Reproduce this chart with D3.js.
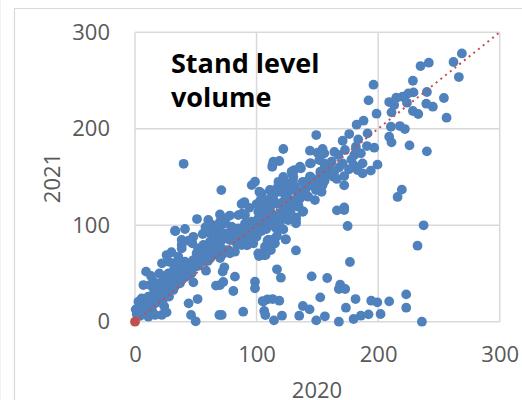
<!DOCTYPE html>
<html><head><meta charset="utf-8">
<script src="https://cdn.jsdelivr.net/npm/d3@7"></script>
<style>html,body{margin:0;padding:0;background:#fff;overflow:hidden}svg{display:block}
text{font-family:"Open Sans",sans-serif}</style></head><body>
<svg id="c" width="522" height="400"></svg>
<script>
const xTicks=[0,100,200,300];
const yTicks=[0,100,200,300];
const xTitle="2020", yTitle="2021";
const titleLines=["Stand level","volume"];
const trend=[[0,0],[300,300]];
const origin=[[0,0]];
const standVolume=[
[237.4,99.9],[232.4,78.8],[174.9,99.2],[176.8,61.9],[132.4,73.9],[123.9,85.3],[122,95.7],[116.8,88.8],[116.8,54.3],[120,45.6],[145.3,47],[158.1,45.3],[168.8,38.4],[167.7,33.9],[172.9,33.9],[152.4,25.2],[181.4,23.5],[194.3,21.8],[199.3,20.1],[209.1,21.1],[223.1,28.3],[223.1,14.5],[173.5,14.5],[138.1,16.3],[143.6,12.8],[118.7,21.8],[113.2,23.5],[109,23.2],[105,21.4],[106.3,11.1],[107.2,6.9],[120.9,6.2],[114.3,1.4],[135.1,6.2],[149.1,1.4],[156.2,5.6],[167.7,0],[179.8,2.8],[185.8,6.2],[192.1,7.6],[202,8],[236,0],[166.1,115.4],[172.1,118.5],[172.1,115.7],[138.4,114.4],[134.6,119.2],[132.4,108.1],[132.4,103.6],[109,84],[114.6,81.2],[111.8,81.2],[109,76],[111.8,74.3],[106.3,69.1],[103.6,69.1],
[268.9,278.1],[262,269.2],[266.4,253.6],[241.7,268.5],[234.9,265],[228.6,249.8],[240.1,238.1],[229.1,237.7],[224.8,236.7],[220.1,233.2],[214.9,232.2],[209.1,227.7],[213.2,224.6],[211,217],[223.7,227],[228.6,218.4],[233,215.3],[239.6,226],[245,222.9],[254.1,231.9],[256.3,211.5],[196.2,245.7],[192.1,229.4],[198.7,215.6],[188,208.4],[182.3,204.2],[210.5,202.1],[217.9,202.8],[222,199.7],[209.1,191.8],[211,185.9],[225.8,182.8],[240.1,176.6],[219.5,136.9],[216,129.3],[149.1,193.5],[176.2,194.5],[170.8,187.6],[191.3,195.2],[183.6,189],[196.8,180.4],[190.8,182.1],[172.7,178],[181.7,181.4],[180.4,172.8],[185.8,174.5],[122,179],[118.7,166.6],[113.2,162.4],[143.9,177.3],[154.3,179],[150.2,175.2],[155.7,174.5],[167.2,172.8],[161.7,165.9],[170.8,164.1],[144.7,164.1],[151.6,167.6],[155.7,164.1],[136.5,159],[131,157.2],[179.8,162.4],[187.2,164.1],[199.5,162.8],[194,156.6],[187.2,153.8],[183.1,157.2],[172.1,151],[172.1,141.4],[163.4,150.3],[158.4,152],[152.4,155.5],[144.2,150.3],[129.6,152],[154.3,141.7],[148.8,136.5],
[113.8,165.8],[112.9,160.6],[128.8,155.5],[135.7,160.6],[143.9,164.1],[130.2,150.3],[126.1,143.4],[131.6,139.9],[122,141.6],[116.5,138.2],[111,136.5],[113.8,131.3],[119.2,134.7],[126.1,134.7],[133,134.7],[138.4,136.5],[143.9,150.3],[150.8,138.2],[148,126.1],[153.5,134.7],[142.5,129.6],[135.7,127.8],[128.8,126.1],[122,124.4],[116.5,122.6],[111,127.8],[104.2,133],[104.2,122.6],[104.2,114],[108.3,117.5],[112.4,112.3],[119.2,112.3],[126.1,117.5],[134.3,120.9],[137.9,114],[132.4,107.1],[132.4,101.9],[124.7,106.4],[117.9,108.8],[111,105.4],[104.2,105.4],[106.9,110.6],[122,117.5],
[33.2,94],[41.1,96.1],[38.4,84.7],[38.4,79.5],[38.4,76],[47.2,81.2],[55.7,90.9],[61.7,91.6],[68.5,94.3],[52.1,75],[57.6,77.8],[64.4,81.2],[71.3,84.7],[75.4,91.6],[78.1,84.7],[83.6,95],[50.7,70.9],[58.9,69.1],[65.8,70.9],[74,74.3],[82.2,72.6],[26,69.1],[22.2,60.5],[9.1,51.9],[13.2,47.4],[35.6,67.4],[41.1,62.2],[48,63.9],[54.8,62.2],[31.5,60.5],[37,55.3],[43.9,55.3],[49.3,57],[58.4,52.9],[46.6,50.1],[48,40.8],[41.1,46.7],[34.3,48.4],[27.4,50.1],[23.3,46.7],[30.2,43.2],[37,39.8],[31.5,32.9],[24.7,39.8],[19.2,39.8],[6.9,38],[12.3,38],[15.6,32.9],[22,31.1],[11,26],[5.5,24.2],[2.8,20.8],[8.2,19],[13.7,22.5],[19.2,27.7],[23.3,23.5],[0.6,12.8],[1.4,8],[6.9,8.7],[11,5.2],[16.5,7],[22,7],[26,9.7],[5.5,14.9],[11,14.9],[16.5,19],[73.5,56.4],[72.1,51.9],[82.2,46.7],[80.9,31.8],[72.6,41.2],[66.6,37.4],[69.9,38],[51.5,23.5],[44.1,19],[46.1,7],[49.9,0.4],[69.4,7],[71.3,7],[89,10.4],[98.7,41.5],[98.7,34.6],
[40,163.7],[71,136.4],[87.7,122],[90,124],[98.7,145.1],[96,141.6],[102.3,134.7],[103.4,126.1],[69.9,111.2],[51,106.4],[60.3,105.4],[32.9,94.3],[74.8,107.1],[74,101.9],[85,110.5],[90.5,110.5],[79.5,98.5],[85,96.7],[90.5,101.9],[96,103.6],[101.4,114],[101.4,107.1],[106.9,115.7],[111,117.5],[112.4,110.5],[105.6,98.5],[98.7,96.7],[94.6,91.6],[97.3,81.2],[92.4,79.5],[87.7,79.5],[80.9,89.8],[69.9,95],[63.1,91.6],[68.5,86.4],[61.7,82.9],[56.2,79.5],[52.1,76],[58.9,74.3],[67.2,76],[74,86.4],[76.8,74.3],[107,74.3],[110.5,84.7],[115.1,86.4],[101.4,70.8],
[105.5,20.8],[102,68.1],[107.4,69.1],[110.4,75],[106.9,77.8],[115.1,81.2],[109.6,84.7],[124.1,85.4],[126,105.4],[91.8,79.5],[78.1,70.9],
[20,30],[26,34],[28,38],[33,37],[35,44],[39,44],[40,52],[44,48],[44,60],[47,58],[52,58],[52,66],[56,67],[56,72],[60,63],[60,78],[62,66],[64,73],[66,76],[70,66],[70,78],[72,70],[82,84],[84,80],[84,88],[86,86],[88,90],[90,84],[92,96],[94,86],[96,96],[98,90],[100,96],[100,88],[102,100],[104,94],[106,104],[108,96],[110,102],[113,100],[116,104],[116,97],[119,100],[122,108],[125,112],[128,115],[128,120],[131,124],[134,128],[137,130],[140,134],[142,140],[146,142],[150,146],[152,150],[156,146],[160,158],[164,156],[168,160],[140,145],[122,150],[118,145],[124,130],[16,28],[18,20],[12,20],[4,6],[8,14],[14,12],[28,26],[24,16],[30,50],[36,60],[32,54],
[88,112],[94,118],[78,110],[70,104],[64,100],[58,98],[48,88],[44,84],[30,72],[28,62],[20,50],[15,42],[100,122],[108,125],[114,126],[124,128],[130,146],[138,145],[156,160],[166,148],[176,158],[178,168],[164,176]
];
const px={l:135,r:499.7,t:32.3,b:321.7};
const svg=d3.select("#c");
const x=d3.scaleLinear().domain([0,300]).range([px.l,px.r]);
const y=d3.scaleLinear().domain([0,300]).range([px.b,px.t]);
const gridC="#d9d9d9", textC="#595959";
svg.append("path").attr("d","M14.5,400V8.5H522").attr("fill","none").attr("stroke","#d9d9d9").attr("stroke-width",1.2);
svg.append("path").attr("d","M0.5,0V400").attr("fill","none").attr("stroke","#f2f2f2");
svg.append("g").selectAll("line").data(xTicks).join("line").attr("x1",d=>x(d)).attr("x2",d=>x(d)).attr("y1",px.t).attr("y2",px.b).attr("stroke",gridC).attr("stroke-width",1.5);
svg.append("g").selectAll("line").data(yTicks).join("line").attr("x1",px.l).attr("x2",px.r).attr("y1",d=>y(d)).attr("y2",d=>y(d)).attr("stroke",gridC).attr("stroke-width",1.5);
const xAxis=d3.axisBottom(x).tickValues(xTicks).tickSize(0).tickPadding(25);
const yAxis=d3.axisLeft(y).tickValues(yTicks).tickSize(0).tickPadding(25);
const gx=svg.append("g").attr("transform",`translate(0,${px.b})`).call(xAxis);
const gy=svg.append("g").attr("transform",`translate(${px.l},0)`).call(yAxis);
[gx,gy].forEach(g=>{g.select(".domain").remove();g.selectAll("text").attr("fill",textC).style("font-size","22px").style("font-family",'"Open Sans",sans-serif');});
svg.append("g").selectAll("circle").data(standVolume).join("circle").attr("cx",d=>x(d[0])).attr("cy",d=>y(d[1])).attr("r",4.9).attr("fill","#4f81bd");
svg.append("path").attr("d",d3.line().x(d=>x(d[0])).y(d=>y(d[1]))(trend)).attr("fill","none").attr("stroke","#c0504d").attr("stroke-width",2).attr("stroke-dasharray","2 4");
svg.append("g").selectAll("circle").data(origin).join("circle").attr("cx",d=>x(d[0])).attr("cy",d=>y(d[1])).attr("r",4.9).attr("fill","#c0504d");
svg.append("text").attr("x",317).attr("y",398).attr("text-anchor","middle").attr("fill",textC).style("font-size","22px").text(xTitle);
svg.append("text").attr("transform","translate(60,178) rotate(-90)").attr("text-anchor","middle").attr("fill",textC).style("font-size","22px").text(yTitle);
svg.append("g").selectAll("text").data(titleLines).join("text").attr("x",171).attr("y",(d,i)=>73+i*34).attr("fill","#000").style("font-size","27px").style("font-weight","700").text(d=>d);
</script></body></html>
